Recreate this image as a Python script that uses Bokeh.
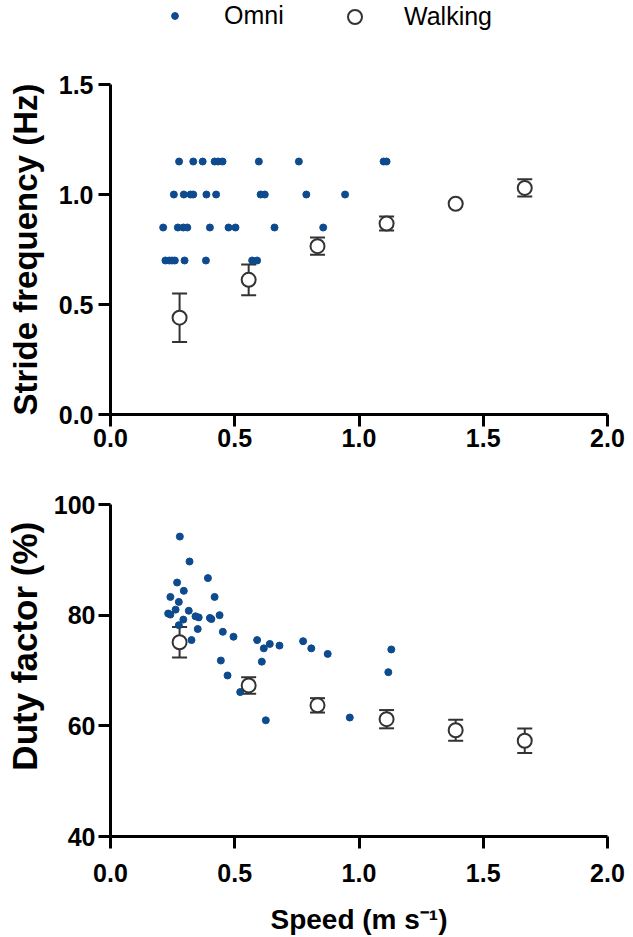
from bokeh.embed import file_html
from bokeh.resources import INLINE
from bokeh.layouts import column
from bokeh.plotting import figure
from bokeh.models import (ColumnDataSource, Whisker, TeeHead, FixedTicker,
                          PrintfTickFormatter, Legend, LegendItem, Range1d)

FONT = "Liberation Sans"
OMNI_COLOR = "#0d4a8e"
WALK_LINE = "#333333"

# ---- Omni trials: stride frequency vs speed ----
omni_sf_speed = [
    0.276, 0.333, 0.371, 0.419, 0.433, 0.451, 0.597, 0.758, 1.099, 1.111,
    0.255, 0.295, 0.322, 0.333, 0.386, 0.425, 0.604, 0.621, 0.788, 0.944,
    0.212, 0.271, 0.293, 0.309, 0.400, 0.475, 0.503, 0.660, 0.856,
    0.221, 0.237, 0.248, 0.259, 0.298, 0.384, 0.570, 0.590,
]
omni_sf = [
    1.15, 1.15, 1.15, 1.15, 1.15, 1.15, 1.15, 1.15, 1.15, 1.15,
    1.0, 1.0, 1.0, 1.0, 1.0, 1.0, 1.0, 1.0, 1.0, 1.0,
    0.85, 0.85, 0.85, 0.85, 0.85, 0.85, 0.85, 0.85, 0.85,
    0.7, 0.7, 0.7, 0.7, 0.7, 0.7, 0.7, 0.7,
]

# ---- Omni trials: duty factor vs speed ----
omni_df_speed = [
    0.279, 0.318, 0.268, 0.392, 0.295, 0.241, 0.419, 0.275, 0.262, 0.315,
    0.232, 0.241, 0.342, 0.355, 0.293, 0.400, 0.406, 0.439, 0.275, 0.351,
    0.452, 0.495, 0.326, 0.590, 0.617, 0.641, 0.680, 0.775, 0.808, 0.874,
    0.444, 0.609, 0.471, 1.130, 1.118, 0.522, 0.625, 0.963,
]
omni_df = [
    94.2, 89.7, 85.9, 86.7, 84.4, 83.3, 83.3, 82.4, 81.0, 80.8,
    80.3, 80.1, 79.8, 79.6, 79.2, 79.5, 79.3, 80.0, 78.2, 77.5,
    77.0, 76.1, 75.5, 75.5, 74.0, 74.8, 74.5, 75.3, 74.0, 73.0,
    71.8, 71.6, 69.1, 73.8, 69.7, 66.1, 61.0, 61.5,
]

# ---- Walking: mean +/- SD at 1-6 km/h ----
walk_speed = [0.278, 0.556, 0.833, 1.111, 1.389, 1.667]
walk_sf = [0.44, 0.612, 0.765, 0.868, 0.958, 1.03]
walk_sf_sd = [0.11, 0.07, 0.039, 0.032, 0.0, 0.039]
walk_df = [75.1, 67.3, 63.7, 61.2, 59.2, 57.3]
walk_df_sd = [2.75, 1.5, 1.3, 1.65, 1.9, 2.2]

x_ticks = [0.0, 0.5, 1.0, 1.5, 2.0]
sf_ticks = [0.0, 0.5, 1.0, 1.5]
df_ticks = [40, 60, 80, 100]

NBSP = "\u00a0"


def style_axes(p, xfmt, yfmt):
    p.grid.visible = False
    p.outline_line_color = None
    for ax in (p.xaxis[0], p.yaxis[0]):
        ax.axis_line_width = 3
        ax.axis_line_color = "black"
        ax.major_tick_line_width = 3
        ax.major_tick_line_color = "black"
        ax.major_tick_out = 12
        ax.major_tick_in = 0
        ax.minor_tick_line_color = None
        ax.major_label_text_font = FONT
        ax.major_label_text_font_style = "bold"
        ax.major_label_text_font_size = "25px"
        ax.major_label_text_color = "black"
        ax.axis_label_text_font = FONT
        ax.axis_label_text_font_style = "bold"
        ax.axis_label_text_color = "black"
    p.xaxis[0].formatter = PrintfTickFormatter(format=xfmt)
    p.yaxis[0].formatter = PrintfTickFormatter(format=yfmt)
    p.xaxis[0].major_label_standoff = 2
    p.yaxis[0].major_label_standoff = 5


def add_points(p, ox, oy, wx, wy, wsd, cap):
    src = ColumnDataSource(dict(
        x=wx, y=wy,
        lower=[m - s for m, s in zip(wy, wsd)],
        upper=[m + s for m, s in zip(wy, wsd)],
    ))
    p.add_layout(Whisker(
        source=src, base="x", upper="upper", lower="lower",
        line_color=WALK_LINE, line_width=2,
        upper_head=TeeHead(size=cap, line_color=WALK_LINE, line_width=2),
        lower_head=TeeHead(size=cap, line_color=WALK_LINE, line_width=2),
    ))
    p.scatter(ox, oy, size=7, color=OMNI_COLOR)
    p.scatter(x="x", y="y", source=src, marker="circle", size=14,
              fill_color="white", line_color=WALK_LINE, line_width=2)


# ---- legend strip (its ranges keep the series themselves out of view) ----
leg = figure(width=633, height=40, x_range=Range1d(10, 11), y_range=Range1d(10, 11),
             x_axis_location=None, y_axis_location=None, min_border=0,
             output_backend="svg", toolbar_location=None)
leg.grid.visible = False
leg.outline_line_color = None
r_omni = leg.scatter(omni_sf_speed, omni_sf, size=7, color=OMNI_COLOR)
r_walk = leg.scatter(walk_speed, walk_sf, marker="circle", size=14, fill_color="white",
                     line_color=WALK_LINE, line_width=2)
for item, r, gw, standoff, loc in (("Omni", r_omni, 17, 41, (56, 10)),
                                   ("Walking", r_walk, 35, 32, (227, 6))):
    lg = Legend(items=[LegendItem(label=item, renderers=[r])], location=loc,
                orientation="horizontal", glyph_width=gw, glyph_height=gw,
                label_standoff=standoff, padding=0, margin=0, spacing=0,
                border_line_color=None, background_fill_alpha=0,
                label_text_font=FONT, label_text_font_size="25px",
                label_text_color="black")
    leg.add_layout(lg)

# ---- stride frequency panel ----
top = figure(width=633, height=430, x_range=Range1d(0, 2.0), y_range=Range1d(0, 1.5),
             min_border_left=110, min_border_right=26, min_border_top=44,
             min_border_bottom=56, output_backend="svg", toolbar_location=None)
style_axes(top, "%.1f", "%.1f")
top.xaxis[0].ticker = FixedTicker(ticks=x_ticks)
top.yaxis[0].ticker = FixedTicker(ticks=sf_ticks)
top.yaxis[0].axis_label = "Stride frequency (Hz)"
top.yaxis[0].axis_label_text_font_size = "33px"
top.yaxis[0].axis_label_standoff = 12
add_points(top, omni_sf_speed, omni_sf, walk_speed, walk_sf, walk_sf_sd, 15)

# ---- duty factor panel ----
bot = figure(width=633, height=467, x_range=Range1d(0, 2.0), y_range=Range1d(40, 100),
             min_border_left=110, min_border_right=26, min_border_top=34,
             min_border_bottom=100, output_backend="svg", toolbar_location=None)
style_axes(bot, "%.1f", "%d")
bot.xaxis[0].ticker = FixedTicker(ticks=x_ticks)
bot.yaxis[0].ticker = FixedTicker(ticks=df_ticks)
bot.yaxis[0].major_label_standoff = 3
bot.xaxis[0].major_label_standoff = 15
bot.xaxis[0].axis_label = "Speed (m s\u207b\u00b9)"
bot.xaxis[0].axis_label_text_font_size = "28px"
bot.xaxis[0].axis_label_standoff = 19
bot.yaxis[0].axis_label = NBSP * 5 + "Duty factor (%)"
bot.yaxis[0].axis_label_text_font_size = "35px"
bot.yaxis[0].axis_label_standoff = 7
add_points(bot, omni_df_speed, omni_df, walk_speed, walk_df, walk_df_sd, 15)

layout = column(leg, top, bot, spacing=0)
open("out.html", "w").write(file_html(layout, INLINE))
